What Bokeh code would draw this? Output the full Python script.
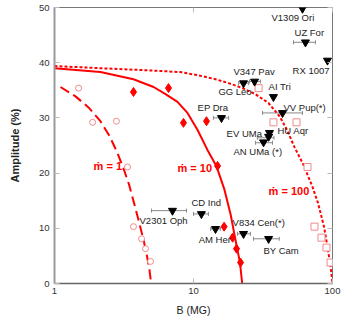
from bokeh.plotting import figure
from bokeh.models import (FixedTicker, LogAxis, LinearAxis, Whisker, TeeHead,
                          ColumnDataSource, BasicTickFormatter)
from bokeh.core.properties import value
from bokeh.embed import file_html
from bokeh.resources import INLINE

# ---- model curves ----
c1_B = [1.105, 1.416, 1.757, 2.14, 2.49, 2.82, 3.16, 3.44, 3.76, 4.05, 4.37, 4.61, 4.82, 4.96]
c1_A = [35.6, 33.9, 31.9, 29.4, 26.7, 23.8, 20.6, 17.9, 14.3, 11.2, 7.9, 5.2, 2.5, 0.0]

c10_B = [1.0, 2.14, 3.70, 5.16, 6.29, 7.67, 9.05, 10.7, 12.6, 14.6, 16.7, 18.5, 19.9, 20.7, 21.6, 22.4]
c10_A = [39.0, 38.3, 37.0, 35.6, 34.3, 32.9, 30.9, 27.8, 24.2, 21.3, 17.0, 12.5, 8.3, 6.1, 3.8, 0.0]

c100_B = [1.0, 2.14, 4.90, 8.06, 10.9, 14.4, 17.9, 22.5, 27.9, 34.6, 41.6, 46.7, 53.3, 61.8,
          71.8, 78.6, 86.9, 92.8, 97.5, 100.0]
c100_A = [39.4, 39.0, 38.6, 38.3, 37.7, 37.0, 36.3, 35.4, 34.3, 32.7, 30.3, 28.0, 24.7, 21.5,
          17.5, 14.6, 10.3, 6.1, 2.5, 0.0]

# ---- model points ----
circ_B = [1.49, 1.88, 2.79, 3.35, 3.70, 4.23, 4.52, 4.91]
circ_A = [35.4, 29.2, 29.4, 21.1, 10.3, 8.1, 6.3, 4.0]

diam_B = [3.70, 6.61, 8.47, 12.4, 14.9, 16.6, 19.1, 20.4, 21.8]
diam_A = [34.7, 35.4, 29.1, 29.4, 21.3, 10.3, 8.3, 6.3, 3.8]

sq_B = [29.4, 37.6, 55.1, 66.1, 74.2, 83.3, 90.5, 96.8]
sq_A = [35.4, 29.2, 29.2, 21.1, 10.3, 8.3, 6.5, 3.8]

# ---- observed polars (triangles) ----
tri_B = [60.8, 63.9, 92.0, 22.9, 27.5, 37.6, 43.7, 15.9, 35.2, 34.7, 31.9, 7.06, 11.4, 14.4, 22.9, 34.7]
tri_A = [49.8, 43.7, 40.4, 36.3, 36.6, 33.8, 30.9, 30.0, 27.3, 26.6, 25.6, 13.2, 12.6, 9.9, 9.0, 8.1]

err_A  = [43.7, 36.3, 36.6, 30.9, 30.0, 26.4, 25.5, 13.2, 12.6, 9.9, 9.0, 8.1]
err_lo = [52.4, 21.1, 25.3, 31.4, 13.9, 28.8, 27.9, 4.99, 10.0, 13.3, 20.7, 27.0]
err_hi = [75.4, 24.9, 30.3, 60.8, 17.9, 37.9, 37.0, 8.91, 12.8, 15.6, 25.7, 41.4]

lab_text = ["V1309 Ori", "UZ For", "RX 1007", "V347 Pav", "GG Leo", "AI Tri", "VV Pup(*)",
            "HU Aqr", "EP Dra", "EV UMa", "AN UMa (*)", "V2301 Oph", "CD Ind", "AM Her",
            "V834 Cen(*)", "BY Cam"]
lab_B = [36.4, 53.3, 51.6, 19.4, 15.1, 34.7, 44.4, 40.2, 10.7, 17.3, 19.4, 4.09, 9.67, 10.9, 19.1, 31.9]
lab_A = [48.2, 45.5, 38.6, 38.4, 34.8, 35.7, 31.8, 27.8, 31.8, 27.1, 24.0, 11.4, 14.7, 7.9, 11.0, 6.0]

mdot_text = ["ṁ = 1", "ṁ = 10", "ṁ = 100"]
mdot_B = [1.91, 7.67, 34.7]
mdot_A = [21.3, 20.9, 16.8]

x_ticks = [1, 10, 100]
y_ticks = [0, 10, 20, 30, 40, 50]

RED = "#ff0000"
PINK = "#f08a8a"
FONT = "Liberation Sans"

p = figure(x_axis_type="log", x_range=(1, 100), y_range=(0, 50),
           width=342, height=318,
           min_border_left=54, min_border_top=7, min_border_right=10, min_border_bottom=34,
           output_backend="svg", toolbar_location=None, background_fill_color="white")
p.xgrid.visible = False
p.ygrid.visible = False
p.outline_line_color = "#777777"
p.outline_line_width = 1

# bottom axis
xa = p.xaxis[0]
xa.ticker = FixedTicker(ticks=x_ticks)
xa.formatter = BasicTickFormatter()
xa.axis_label = "B (MG)"
xa.axis_label_text_font = FONT
xa.axis_label_text_font_size = "10.5px"
xa.axis_label_text_font_style = "normal"
xa.axis_label_text_color = "#222222"
xa.axis_label_standoff = 7
xa.major_label_text_font = FONT
xa.major_label_text_font_size = "9.5px"
xa.major_label_text_color = "#333333"
xa.major_label_standoff = 4
xa.axis_line_color = "#666666"
xa.axis_line_width = 1.5
xa.major_tick_in = 5
xa.major_tick_out = 0
xa.major_tick_line_color = "#bbbbbb"
xa.minor_tick_line_color = None

# left axis
ya = p.yaxis[0]
ya.ticker = FixedTicker(ticks=y_ticks)
ya.axis_label = "Amplitude (%)"
ya.axis_label_text_font = FONT
ya.axis_label_text_font_size = "11px"
ya.axis_label_text_font_style = "bold"
ya.axis_label_text_color = "#222222"
ya.axis_label_standoff = 15
ya.major_label_text_font = FONT
ya.major_label_text_font_size = "9.5px"
ya.major_label_text_color = "#333333"
ya.major_label_standoff = 5
ya.axis_line_color = "#9a9a9a"
ya.axis_line_width = 2
ya.major_tick_in = 5
ya.major_tick_out = 0
ya.major_tick_line_color = "#bbbbbb"
ya.minor_tick_line_color = None

# mirrored ticks
top = LogAxis(ticker=FixedTicker(ticks=x_ticks), formatter=BasicTickFormatter(),
              major_label_text_font_size="1px", major_label_text_color=None,
              major_label_standoff=0, axis_line_color=None, major_tick_in=5, major_tick_out=0,
              major_tick_line_color="#bbbbbb", minor_tick_line_color=None)
p.add_layout(top, "above")
right = LinearAxis(ticker=FixedTicker(ticks=y_ticks),
                   major_label_text_font_size="1px", major_label_text_color=None,
                   major_label_standoff=0, axis_line_color=None, major_tick_in=5, major_tick_out=0,
                   major_tick_line_color="#bbbbbb", minor_tick_line_color=None)
p.add_layout(right, "right")

# curves
p.line(c1_B, c1_A, line_color=RED, line_width=2, line_dash="10 5")
p.line(c10_B, c10_A, line_color=RED, line_width=2)
p.line(c100_B, c100_A, line_color=RED, line_width=2, line_dash="3 2")

# model points
p.scatter(circ_B, circ_A, marker="circle", size=6, line_color=PINK, fill_color="white", line_width=1)
p.scatter(sq_B, sq_A, marker="square", size=7, line_color=PINK, fill_color="white", line_width=1)
p.scatter(diam_B, diam_A, marker="diamond", size=9, line_color=RED, fill_color=RED)

# error bars
esrc = ColumnDataSource(dict(base=err_A, lower=err_lo, upper=err_hi))
p.add_layout(Whisker(source=esrc, base="base", lower="lower", upper="upper", dimension="width",
                     line_color="#888888", line_width=1,
                     upper_head=TeeHead(size=4, line_color="#888888", line_width=1),
                     lower_head=TeeHead(size=4, line_color="#888888", line_width=1)))

p.scatter(tri_B, tri_A, marker="inverted_triangle", size=8, line_color="black", fill_color="black")

# labels
p.text(lab_B, lab_A, text=lab_text, text_font=value(FONT), text_font_size="9.5px",
       text_color="#222222", text_baseline="middle", text_align="left")
p.text(mdot_B, mdot_A, text=mdot_text, text_font=value(FONT), text_font_size="11px",
       text_font_style="bold", text_color=RED, text_baseline="middle", text_align="left")

open("out.html", "w").write(file_html(p, INLINE))
